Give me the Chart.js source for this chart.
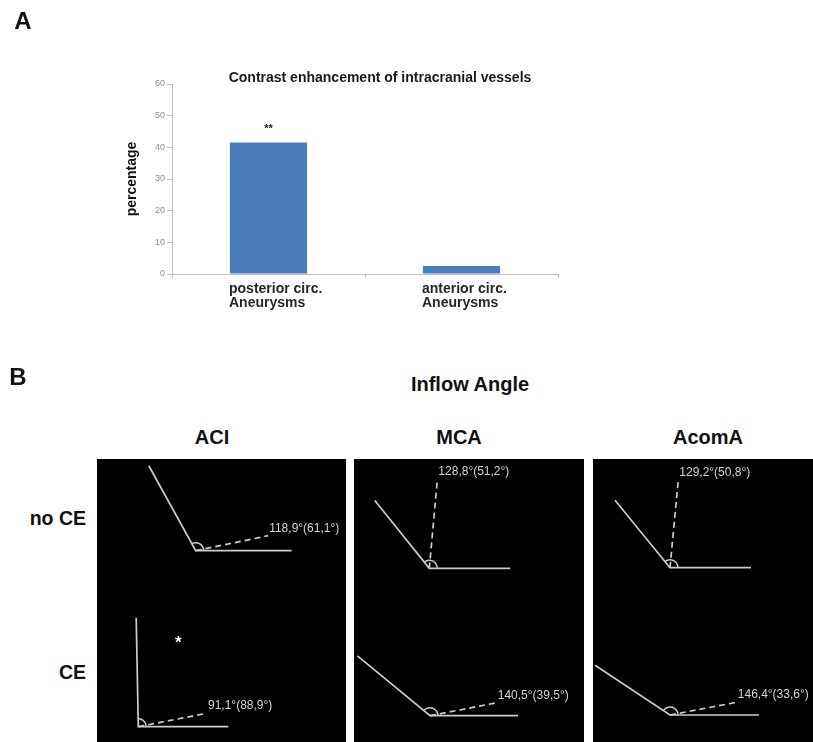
<!DOCTYPE html>
<html><head><meta charset="utf-8">
<script src="https://cdn.jsdelivr.net/npm/chart.js@4.4.1/dist/chart.umd.min.js"></script>
<style>
html,body{margin:0;padding:0;background:#fff;}
body{width:813px;height:742px;position:relative;overflow:hidden;font-family:"Liberation Sans",Arial,sans-serif;}
.t{position:absolute;white-space:nowrap;line-height:1;transform:translate(-50%,-50%);font-weight:bold;color:#111;}
.r{position:absolute;white-space:nowrap;line-height:1;transform:translate(-100%,-50%);font-weight:bold;color:#111;}
#wrapA{position:absolute;left:0;top:0;width:813px;height:340px;}
.panel{position:absolute;top:459px;height:283px;background:#000;}
</style></head><body>
<div id="wrapA"><canvas id="chartA"></canvas></div>
<script>
// ---------- DATA: panel A ----------
const panelLetters = ['A', 'B'];
const titleA = 'Contrast enhancement of intracranial vessels';
const yAxisTitle = 'percentage';
const categories = [['posterior circ.', 'Aneurysms'], ['anterior circ.', 'Aneurysms']];
const percentages = [41.5, 2.5];
const significanceA = ['**', ''];
const yTickMin = 0, yTickMax = 60, yTickStep = 10;

// ---------- DATA: panel B ----------
const titleB = 'Inflow Angle';
const vessels = ['ACI', 'MCA', 'AcomA'];
const groups = ['no CE', 'CE'];
const inflowNoCE = [118.9, 128.8, 129.2];
const complementNoCE = [61.1, 51.2, 50.8];
const inflowCE = [91.1, 140.5, 146.4];
const complementCE = [88.9, 39.5, 33.6];
const axisDirNoCE = [11.7, 84.8, 84.6];   // direction of dashed aneurysm axis (deg)
const axisDirCE = [11.1, 11.0, 10.8];
const starNoCE = [false, false, false];
const starCE = [true, false, false];

// ---------- LAYOUT ----------
const FONT = '"Liberation Sans", Arial, sans-serif';
Chart.defaults.font.family = FONT;
const panelTop = 459, panelHeight = 283;
const panelLayout = [
  {left: 97, width: 249, d: [{vx: 98.7, vy: 91.7, ls: 97, lh: 96, ld: 74}, {vx: 41.3, vy: 267.7, ls: 109, lh: 90, ld: 70, star: [81.3, 181]}]},
  {left: 354, width: 230, d: [{vx: 75.3, vy: 109.3, ls: 87, lh: 81, ld: 89}, {vx: 76, vy: 256.7, ls: 94, lh: 88, ld: 68}]},
  {left: 593, width: 220, d: [{vx: 77, vy: 108.7, ls: 87, lh: 81, ld: 88}, {vx: 77, vy: 256, ls: 90, lh: 89, ld: 68}]}
];
const headingPos = {letterA: [23, 21], letterB: [18, 377], titleA: [380, 77], titleB: [470, 384],
  vesselY: 437, vesselX: [212, 459, 708], groupRight: 86, groupY: [519, 673]};

function addText(cls, txt, x, y, size, extra) {
  const el = document.createElement('div');
  el.className = cls; el.textContent = txt;
  el.style.left = x + 'px'; el.style.top = y + 'px'; el.style.fontSize = size + 'px';
  if (extra) Object.assign(el.style, extra);
  document.body.appendChild(el);
}
addText('t', panelLetters[0], headingPos.letterA[0], headingPos.letterA[1], 24);
addText('t', panelLetters[1], headingPos.letterB[0], headingPos.letterB[1], 24);
addText('t', titleA, headingPos.titleA[0], headingPos.titleA[1], 14, {color: '#1a1a1a'});
addText('t', titleB, headingPos.titleB[0], headingPos.titleB[1], 20);
vessels.forEach((v, i) => addText('t', v, headingPos.vesselX[i], headingPos.vesselY, 20));
groups.forEach((g, i) => addText('r', g, headingPos.groupRight, headingPos.groupY[i], 19.5));

// ---------- CHART A ----------
const starPlugin = {
  id: 'sig',
  afterDatasetsDraw(chart) {
    const ctx = chart.ctx, meta = chart.getDatasetMeta(0), ys = chart.scales.y;
    ctx.save();
    ctx.font = 'bold 11px ' + FONT; ctx.fillStyle = '#222';
    ctx.textAlign = 'center'; ctx.textBaseline = 'middle';
    significanceA.forEach((s, i) => {
      if (!s) return;
      ctx.fillText(s, meta.data[i].x, ys.getPixelForValue(percentages[i]) - 14);
    });
    ctx.restore();
  }
};
new Chart(document.getElementById('chartA'), {
  type: 'bar',
  data: {labels: categories, datasets: [{data: percentages, backgroundColor: '#4a7ebb', barPercentage: 0.4, categoryPercentage: 1}]},
  options: {
    responsive: true, maintainAspectRatio: false, animation: false,
    layout: {padding: {left: 115, right: 255, top: 84, bottom: 16}},
    plugins: {legend: {display: false}, tooltip: {enabled: false}, title: {display: false}},
    scales: {
      x: {
        grid: {display: true, drawOnChartArea: false, drawTicks: true, tickLength: 4, color: '#bfbfbf', offset: true},
        border: {color: '#bfbfbf', width: 1},
        ticks: {align: 'start', labelOffset: -39.5, padding: 4, color: '#262626',
          font: {size: 14, weight: 'bold', lineHeight: 1.02}, maxRotation: 0, autoSkip: false},
        afterFit(s) { s.height = 50; }
      },
      y: {
        min: yTickMin, max: yTickMax,
        ticks: {stepSize: yTickStep, color: '#8c8c8c', font: {size: 9}, padding: 2},
        grid: {drawOnChartArea: false, tickLength: 5, color: '#bfbfbf'},
        border: {color: '#bfbfbf', width: 1},
        title: {display: true, text: yAxisTitle, color: '#111', font: {size: 14, weight: 'bold'}, padding: {top: 9, bottom: 0}},
        afterFit(s) { s.width = 57; }
      }
    }
  },
  plugins: [starPlugin]
});

// ---------- CHARTS B ----------
const LINE = '#cccccc';
function endPoint(d, ang, len) {
  const r = ang * Math.PI / 180;
  return {x: d.vx + len * Math.cos(r), y: d.vy - len * Math.sin(r)};
}
const fmt = v => v.toFixed(1).replace('.', ',') + '\u00b0';

panelLayout.forEach((p, c) => {
  const div = document.createElement('div');
  div.className = 'panel';
  div.style.left = p.left + 'px'; div.style.width = p.width + 'px';
  const cv = document.createElement('canvas');
  div.appendChild(cv); document.body.appendChild(div);

  const rowsData = [
    {inflow: inflowNoCE[c], comp: complementNoCE[c], dir: axisDirNoCE[c], star: starNoCE[c]},
    {inflow: inflowCE[c], comp: complementCE[c], dir: axisDirCE[c], star: starCE[c]}
  ];
  const datasets = [];
  rowsData.forEach((r, k) => {
    const d = p.d[k];
    datasets.push({data: [endPoint(d, r.inflow, d.ls), {x: d.vx, y: d.vy}, endPoint(d, 0, d.lh)],
      showLine: true, borderColor: LINE, borderWidth: 1.7, pointRadius: 0, fill: false, clip: false});
    datasets.push({data: [{x: d.vx, y: d.vy}, endPoint(d, r.dir, d.ld)],
      showLine: true, borderColor: LINE, borderWidth: 1.7, borderDash: [6, 4], pointRadius: 0, fill: false, clip: false});
  });

  const deco = {
    id: 'deco' + c,
    afterDatasetsDraw(chart) {
      const ctx = chart.ctx, xs = chart.scales.x, ys = chart.scales.y;
      ctx.save();
      rowsData.forEach((r, k) => {
        const d = p.d[k];
        const px = xs.getPixelForValue(d.vx), py = ys.getPixelForValue(d.vy);
        ctx.strokeStyle = LINE; ctx.lineWidth = 1.5; ctx.setLineDash([]);
        ctx.beginPath(); ctx.arc(px, py, 8, -r.inflow * Math.PI / 180, 0, false); ctx.stroke();
        const e = endPoint(d, r.dir, d.ld);
        ctx.fillStyle = '#d4d4d4'; ctx.font = '12px ' + FONT;
        ctx.textAlign = 'left'; ctx.textBaseline = 'middle';
        ctx.fillText(fmt(r.inflow) + '(' + fmt(r.comp) + ')', xs.getPixelForValue(e.x) + 1, ys.getPixelForValue(e.y) - 7.5);
        if (r.star && d.star) {
          ctx.fillStyle = '#ffffff'; ctx.font = 'bold 17px ' + FONT; ctx.textAlign = 'center';
          ctx.fillText('*', xs.getPixelForValue(d.star[0]), ys.getPixelForValue(d.star[1]) + 3);
        }
      });
      ctx.restore();
    }
  };

  new Chart(cv, {
    type: 'scatter',
    data: {datasets},
    options: {
      responsive: true, maintainAspectRatio: false, animation: false,
      layout: {padding: 0},
      plugins: {legend: {display: false}, tooltip: {enabled: false}},
      scales: {
        x: {type: 'linear', min: 0, max: p.width, display: false},
        y: {type: 'linear', min: 0, max: panelHeight, reverse: true, display: false}
      }
    },
    plugins: [deco]
  });
});
</script>
</body></html>
